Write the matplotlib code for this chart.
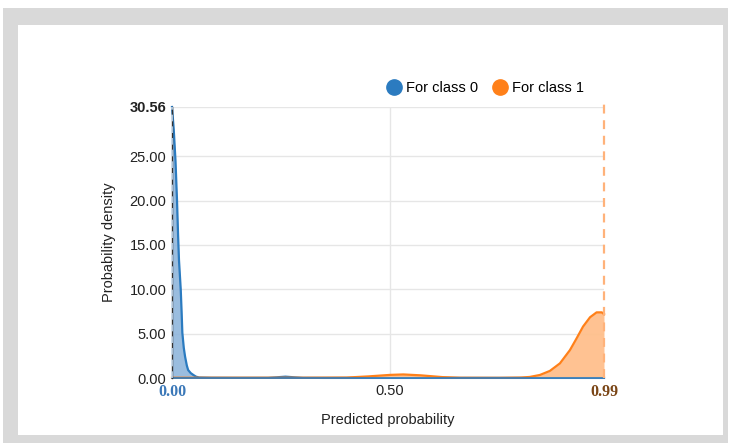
import matplotlib
matplotlib.use('Agg')
import matplotlib.pyplot as plt
from matplotlib.patches import Rectangle
from matplotlib.lines import Line2D

# density curves
class0_x = [0.0, 0.004, 0.008, 0.0115, 0.014, 0.016, 0.020, 0.022, 0.0237, 0.027, 0.030,
            0.034, 0.037, 0.043, 0.049, 0.055, 0.062, 0.09, 0.15, 0.22, 0.24, 0.26, 0.28,
            0.30, 0.35, 0.5, 0.7, 0.9, 0.99]
class0_y = [30.56, 28.0, 24.5, 20.0, 16.0, 13.3, 10.0, 7.5, 5.1, 3.4, 2.4,
            1.4, 0.9, 0.55, 0.34, 0.15, 0.06, 0.03, 0.02, 0.02, 0.08, 0.15, 0.08,
            0.02, 0.01, 0.01, 0.01, 0.01, 0.01]

class1_x = [0.0, 0.1, 0.2, 0.3, 0.40, 0.45, 0.50, 0.53, 0.57, 0.62, 0.66, 0.75, 0.80,
            0.82, 0.843, 0.866, 0.889, 0.912, 0.927, 0.942, 0.958, 0.973, 0.985, 0.99]
class1_y = [0.03, 0.03, 0.03, 0.03, 0.05, 0.18, 0.35, 0.4, 0.3, 0.1, 0.03, 0.02, 0.05,
            0.12, 0.34, 0.8, 1.65, 3.15, 4.45, 5.8, 6.85, 7.4, 7.4, 7.2]

y_ticks = [0, 5, 10, 15, 20, 25, 30.56]
x_ticks = [0.0, 0.5, 0.99]
x_tick_labels = ['0.00', '0.50', '0.99']

BLUE = '#2b7bc0'
ORANGE = '#ff8019'

plt.rcParams['font.family'] = ['Liberation Sans', 'DejaVu Sans']

fig = plt.figure(figsize=(7.30, 4.43), dpi=100)
W, H = 730, 443

# grey frame with white panel
fig.patches.append(Rectangle((3 / W, 0), 725 / W, (443 - 8) / H, transform=fig.transFigure,
                             facecolor='#d9d9d9', edgecolor='none', zorder=-2))
fig.patches.append(Rectangle((18 / W, (443 - 435) / H), 705 / W, (435 - 25) / H,
                             transform=fig.transFigure, facecolor='white', edgecolor='none', zorder=-1))

ax = fig.add_axes([172 / W, 1 - 378 / H, 432 / W, 271 / H])
ax.set_facecolor('none')
ax.set_xlim(0, 0.99)
ax.set_ylim(0, 30.56)

for y in y_ticks[1:]:
    ax.axhline(y, color='#e6e6e6', lw=1, zorder=0)
ax.axvline(0.5, color='#e6e6e6', lw=1, zorder=0)

ax.fill_between(class0_x, class0_y, color='#8fb6dc', alpha=0.9, lw=0, zorder=2)
ax.plot(class0_x, class0_y, color=BLUE, lw=1.6, zorder=3, clip_on=False)
ax.fill_between(class1_x, class1_y, color='#ffbf8c', alpha=0.95, lw=0, zorder=4)
ax.plot(class1_x, class1_y, color=ORANGE, lw=1.6, zorder=5, clip_on=False)
ax.plot([0, 0.99], [0, 0], color=BLUE, lw=1.2, zorder=5, clip_on=False)

ax.axvline(0.99, ymax=1.01, color='#ffb27a', lw=1.6, ls=(0, (4, 3)), zorder=6, clip_on=False)
ax.axvline(0.0, color='#c8dcef', lw=1.2, ls=(0, (4, 3)), zorder=6, clip_on=False)

for s in ['top', 'right', 'bottom']:
    ax.spines[s].set_visible(False)
ax.spines['left'].set_color('#333333')
ax.spines['left'].set_linewidth(1.0)
ax.spines['left'].set_zorder(5)

ax.set_yticks(y_ticks)
ax.set_yticklabels(['%.2f' % v for v in y_ticks], fontsize=10.5, color='#222222')
ax.get_yticklabels()[-1].set_fontweight('bold')
ax.set_xticks(x_ticks)
ax.set_xticklabels(x_tick_labels, fontsize=10.5, color='#222222')
ax.tick_params(length=0, pad=4)
xl = ax.get_xticklabels()
for i, c in [(0, '#3b78b8'), (2, '#7a4516')]:
    xl[i].set_color(c)
    xl[i].set_fontweight('bold')
    xl[i].set_family('Liberation Serif')
    xl[i].set_fontsize(11.5)

ax.set_xlabel('Predicted probability', fontsize=10.5, color='#222222', labelpad=10)
ax.set_ylabel('Probability density', fontsize=10.5, color='#222222', labelpad=10)

handles = [Line2D([], [], marker='o', ls='none', markersize=11, color=BLUE),
           Line2D([], [], marker='o', ls='none', markersize=11, color=ORANGE)]
ax.legend(handles, ['For class 0', 'For class 1'], loc='center', bbox_to_anchor=(0.725, 1.07),
          ncol=2, frameon=False, fontsize=10.5, handletextpad=0.3, columnspacing=1.0,
          handlelength=1.0, borderaxespad=0)

fig.savefig('out.png', dpi=100)
